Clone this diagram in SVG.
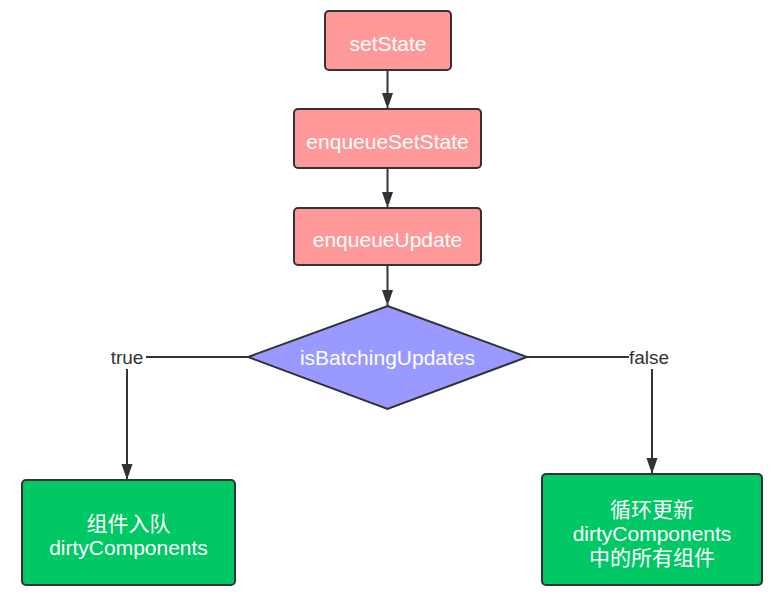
<svg xmlns="http://www.w3.org/2000/svg" width="779" height="598" viewBox="0 0 779 598">
<defs>
<marker id="arr" markerWidth="12" markerHeight="16" refX="16" refY="6" orient="auto" markerUnits="userSpaceOnUse">
<path d="M0,0.5 L16,6 L0,11.5 Z" fill="#333"/>
</marker>
<style>
.box{stroke:#333;stroke-width:2}
.pink{fill:#ff9999}
.blue{fill:#9999ff}
.green{fill:#00c864}
.t{font-family:"Liberation Sans","Noto Sans CJK SC",sans-serif;font-size:21px;fill:#fff;text-anchor:middle}
.lbl{font-family:"Liberation Sans","Noto Sans CJK SC",sans-serif;font-size:19px;fill:#333;text-anchor:middle}
.c{fill:none;stroke:#333;stroke-width:2}
</style>
</defs>
<rect width="779" height="598" fill="#fff"/>
<g id="connectors">
<line class="c" x1="387.5" y1="71" x2="387.5" y2="109" marker-end="url(#arr)"/>
<line class="c" x1="387.5" y1="169" x2="387.5" y2="208" marker-end="url(#arr)"/>
<line class="c" x1="387.5" y1="266" x2="387.5" y2="306" marker-end="url(#arr)"/>
<polyline class="c" points="248,357 146,357"/>
<polyline class="c" points="127,369 127,480" marker-end="url(#arr)"/>
<polyline class="c" points="527,357 629,357"/>
<polyline class="c" points="652,369 652,474" marker-end="url(#arr)"/>
<text class="lbl" x="127" y="364">true</text>
<text class="lbl" x="649" y="364">false</text>
</g>
<g id="setState">
<rect class="box pink" x="325" y="11" width="126" height="59" rx="4"/>
<text class="t" x="388" y="51">setState</text>
</g>
<g id="enqueueSetState">
<rect class="box pink" x="294" y="109" width="187" height="59" rx="4"/>
<text class="t" x="387.5" y="148.5">enqueueSetState</text>
</g>
<g id="enqueueUpdate">
<rect class="box pink" x="294" y="208" width="187" height="57" rx="4"/>
<text class="t" x="387.5" y="246.5">enqueueUpdate</text>
</g>
<g id="isBatchingUpdates">
<polygon class="box blue" points="387.5,306 527,357 387.5,409 248,357" stroke-linejoin="miter"/>
<text class="t" x="387.5" y="365">isBatchingUpdates</text>
</g>
<g id="enqueueComponent">
<rect class="box green" x="22" y="480" width="213" height="105" rx="4"/>
<text class="t" x="128.5" y="531">组件入队</text>
<text class="t" x="128.5" y="555">dirtyComponents</text>
</g>
<g id="flushComponents">
<rect class="box green" x="542" y="474" width="220" height="111" rx="4"/>
<text class="t" x="652" y="517">循环更新</text>
<text class="t" x="652" y="541">dirtyComponents</text>
<text class="t" x="652" y="565">中的所有组件</text>
</g>
</svg>
